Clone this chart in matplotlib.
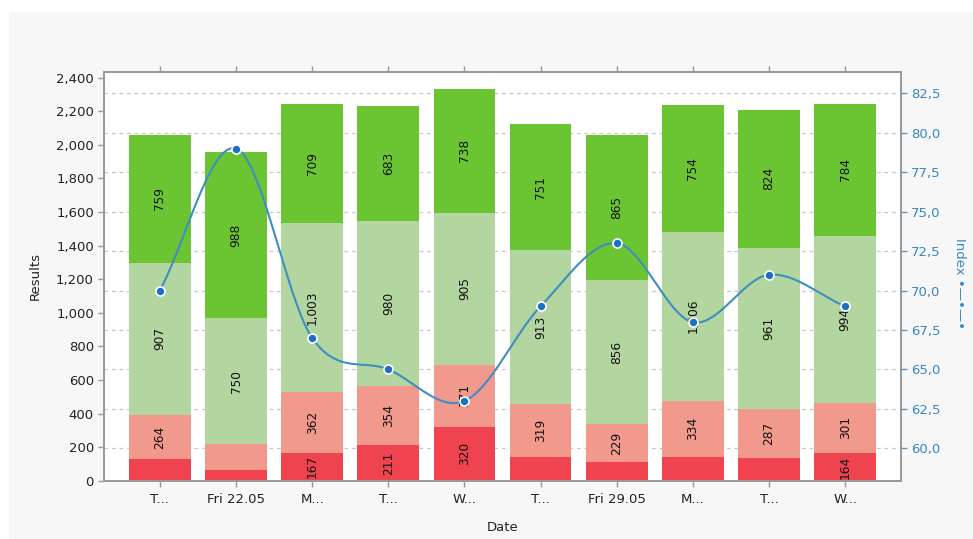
import numpy as np
import matplotlib
matplotlib.use("Agg")
import matplotlib.pyplot as plt
from matplotlib.transforms import blended_transform_factory
from matplotlib.patches import Rectangle
from matplotlib.ticker import FuncFormatter

# ---- data ----
categories = ["T...", "Fri 22.05", "M...", "T...", "W...", "T...", "Fri 29.05", "M...", "T...", "W..."]
dark_red = [127, 64, 167, 211, 320, 139, 109, 143, 137, 164]
light_red = [264, 153, 362, 354, 371, 319, 229, 334, 287, 301]
light_green = [907, 750, 1003, 980, 905, 913, 856, 1006, 961, 994]
green = [759, 988, 709, 683, 738, 751, 865, 754, 824, 784]
index_values = [70, 79, 67, 65, 63, 69, 73, 68, 71, 69]
left_ticks = [0, 200, 400, 600, 800, 1000, 1200, 1400, 1600, 1800, 2000, 2200, 2400]
right_ticks = [60.0, 62.5, 65.0, 67.5, 70.0, 72.5, 75.0, 77.5, 80.0, 82.5]

series = [dark_red, light_red, light_green, green]
colors = ["#ef4450", "#f0998c", "#b3d5a0", "#6bc532"]

fig = plt.figure(figsize=(9.73, 5.39), dpi=100)
fig.patch.set_facecolor("white")
fig.patches.append(Rectangle((9 / 973, 0), 1, 1 - 12 / 539, transform=fig.transFigure,
                             facecolor="#f7f7f7", edgecolor="none", zorder=-10))

ax = fig.add_axes([104.3 / 973, 1 - 480.7 / 539, (900.7 - 104.3) / 973, (480.7 - 71.7) / 539])
ax.set_facecolor("white")
ax2 = ax.twinx()

x = np.arange(len(categories))
bottom = np.zeros(len(categories))
for vals, col in zip(series, colors):
    vals = np.array(vals, dtype=float)
    ax.bar(x, vals, bottom=bottom, width=0.81, color=col, zorder=2)
    for xi, b, v in zip(x, bottom, vals):
        if v >= 160:
            ax.text(xi, b + v / 2, f"{int(v):,}", rotation=90, ha="center", va="center",
                    fontsize=8.7, color="#111111", zorder=3)
    bottom += vals

ax.set_xlim(-0.73, len(categories) - 1 + 0.73)
ax.set_ylim(0, 2435)
ax.set_yticks(left_ticks)
ax.yaxis.set_major_formatter(FuncFormatter(lambda v, p: f"{int(v):,}"))
ax.set_xticks(x)
ax.set_xticklabels(categories)
ax.tick_params(axis="both", direction="out", length=4, color="#999999", labelsize=9.5,
               labelcolor="#222222", width=1)
ax.tick_params(axis="x", top=True, pad=5)
ax.set_ylabel("Results", fontsize=9.5, color="#222222", labelpad=10)
ax.set_xlabel("Date", fontsize=9.5, color="#222222", labelpad=11)

ax2.set_ylim(57.95, 83.87)
ax2.set_yticks(right_ticks)
ax2.yaxis.set_major_formatter(FuncFormatter(lambda v, p: f"{v:.1f}".replace(".", ",")))
ax2.tick_params(axis="y", direction="out", length=4, color="#5f95c4", labelsize=9.5,
                labelcolor="#3a86c2", width=1)

# gridlines at right-axis ticks, behind bars
tr = blended_transform_factory(ax.transAxes, ax2.transData)
ax.hlines(right_ticks, 0, 1, transform=tr, colors="#c8c8c8", linestyles=(0, (3, 3)),
          linewidth=0.9, zorder=0)

for a in (ax, ax2):
    for s in a.spines.values():
        s.set_color("#9a9a9a")
        s.set_linewidth(1.3)

# smooth (Catmull-Rom) line through index points
pts = np.array(index_values, dtype=float)
xs_all, ys_all = [], []
for i in range(len(pts) - 1):
    p0 = pts[i - 1] if i > 0 else pts[i]
    p1, p2 = pts[i], pts[i + 1]
    p3 = pts[i + 2] if i + 2 < len(pts) else pts[i + 1]
    m1 = (p2 - p0) / 2 if i > 0 else (p2 - p1)
    m2 = (p3 - p1) / 2 if i + 2 < len(pts) else (p2 - p1)
    t = np.linspace(0, 1, 40)
    h00 = 2 * t**3 - 3 * t**2 + 1
    h10 = t**3 - 2 * t**2 + t
    h01 = -2 * t**3 + 3 * t**2
    h11 = t**3 - t**2
    xs_all.append(i + t)
    ys_all.append(h00 * p1 + h10 * m1 + h01 * p2 + h11 * m2)
ax2.plot(np.concatenate(xs_all), np.concatenate(ys_all), color="#3f8ec0", linewidth=1.5, zorder=5)
ax2.plot(x, index_values, linestyle="none", marker="o", markersize=6.5, markerfacecolor="#1d6fc4",
         markeredgecolor="white", markeredgewidth=1.2, zorder=6)

fig.text(960 / 973, 1 - 283 / 539, "Index •—•—•", rotation=270, ha="center", va="center",
         fontsize=9.5, color="#3a86c2")

fig.savefig("out.png", dpi=100, facecolor=fig.get_facecolor())
